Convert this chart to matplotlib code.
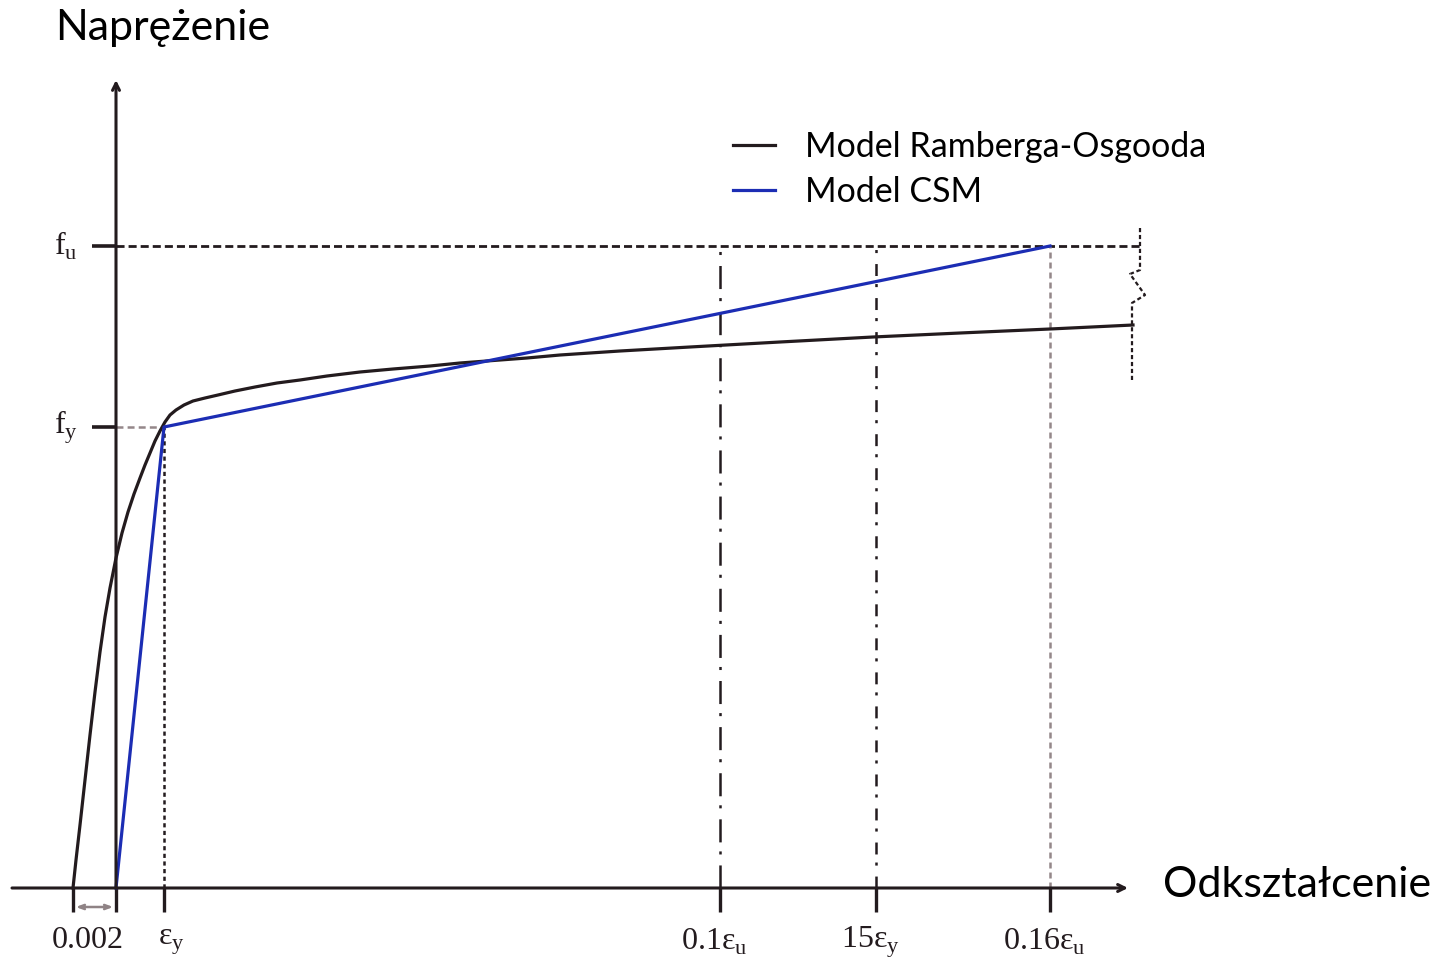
import numpy as np
import matplotlib.pyplot as plt

plt.rcParams['lines.scale_dashes'] = False
plt.rcParams['mathtext.fontset'] = 'custom'
plt.rcParams['mathtext.rm'] = 'Liberation Serif'

INK = '#231b1e'
BLUE = '#1c2db4'
GREY = '#948789'

# strain / stress in sketch units (origin at the axes crossing)
eps_002 = -43
eps_y = 48
eps_01u = 604
eps_15y = 760
eps_016u = 934
f_y = 461
f_u = 642

# Ramberg-Osgood curve, read point by point
ro_eps = [-43, -40, -36, -31, -26, -21, -16, -11, -6, 0, 6, 12, 18, 24, 29, 34,
          39, 44, 49, 54, 60, 68, 77, 89, 102, 119, 139, 161, 184, 211, 244,
          277, 314, 344, 384, 411, 444, 504, 574, 664, 757, 844, 934, 1017]
ro_sig = [0, 28, 63, 108, 153, 196, 236, 271, 300, 330, 355, 376, 394, 410,
          423, 435, 447, 457, 466, 473, 478, 483, 487, 490, 493, 497, 501, 505,
          508, 512, 516, 519, 522, 525, 528, 530, 533, 537, 541, 546, 551, 555,
          559, 563]

# CSM bilinear model
csm_eps = [0, eps_y, eps_016u]
csm_sig = [0, f_y, f_u]

xticks = [eps_002, 0, eps_y, eps_01u, eps_15y, eps_016u]
xlabels = {eps_y: 'ε$_\\mathregular{y}$', eps_01u: '0.1ε$_\\mathregular{u}$',
           eps_15y: '15ε$_\\mathregular{y}$', eps_016u: '0.16ε$_\\mathregular{u}$'}
yticks = [f_y, f_u]
ylabels = ['f$_\\mathregular{y}$', 'f$_\\mathregular{u}$']

fig = plt.figure(figsize=(14.45, 9.65), dpi=100)
ax = fig.add_axes([0, 0, 1, 1])
ax.set_xlim(-116, 1329)
ax.set_ylim(-77, 888)
ax.axis('off')

# axes with arrows
ax.annotate('', xy=(1012, 0), xytext=(-104, 0),
            arrowprops=dict(arrowstyle='->,head_length=0.5,head_width=0.25', color=INK, lw=2.2, shrinkA=0, shrinkB=0))
ax.annotate('', xy=(0, 808), xytext=(0, 0),
            arrowprops=dict(arrowstyle='->,head_length=0.5,head_width=0.25', color=INK, lw=2.2, shrinkA=0, shrinkB=0))

# ticks
for x in xticks:
    ax.plot([x, x], [0, -24], color=INK, lw=2.4, solid_capstyle='butt')
for y in yticks:
    ax.plot([-24, 0], [y, y], color=INK, lw=2.6, solid_capstyle='butt')

# guide lines
ax.plot([0, 1024], [f_u, f_u], color=INK, lw=2.0, dashes=(5.8, 2.9))
ax.plot([0, eps_y], [f_y, f_y], color=GREY, lw=1.8, dashes=(5, 3))
ax.plot([eps_y, eps_y], [0, f_y], color=INK, lw=1.8, dashes=(3, 2.5))
ax.plot([eps_01u, eps_01u], [0, f_u], color=INK, lw=1.8, dashes=(16.6, 7.9, 2.2, 6.5))
ax.plot([eps_15y, eps_15y], [0, f_u], color=INK, lw=1.8, dashes=(8.6, 7.9, 2.2, 5.8))
ax.plot([eps_016u, eps_016u], [0, f_u], color=GREY, lw=1.8, dashes=(4.3, 2.9))

# break mark at the end of the curve
ax.plot([1024, 1024, 1014, 1029, 1016, 1016], [660, 618, 614, 593, 585, 506],
        color=INK, lw=1.6, dashes=(3, 2))

# models
ax.plot(ro_eps, ro_sig, color=INK, lw=2.3, solid_joinstyle='round')
ax.plot(csm_eps, csm_sig, color=BLUE, lw=2.3, solid_joinstyle='round')

# 0.002 offset marker
ax.annotate('', xy=(0, -19), xytext=(eps_002, -19),
            arrowprops=dict(arrowstyle='<->,head_length=0.4,head_width=0.15', color='#8f8385', lw=1.8, shrinkA=2, shrinkB=2))

serif = dict(family='Liberation Serif', fontsize=23, color=INK)
ax.text(-28, -52, '0.002', ha='center', va='center', **serif)
for x, s in xlabels.items():
    ax.text(x - 6, -54, s, ha='left' if x == eps_y else 'center', va='center', **serif)
for y, s in zip(yticks, ylabels):
    ax.text(-50, y, s, ha='center', va='center', **serif)

ax.text(-61, 860, 'Naprężenie', ha='left', va='center', family='Lato', fontsize=31, color='black')
ax.text(1047, 3, 'Odkształcenie', ha='left', va='center', family='Lato', fontsize=31, color='black')

# legend
ax.plot([617, 659], [743, 743], color=INK, lw=2.3)
ax.plot([617, 659], [698, 698], color=BLUE, lw=2.3)
ax.text(689, 741, 'Model Ramberga-Osgooda', ha='left', va='center', family='Lato', fontsize=24.5, color='black')
ax.text(689, 696, 'Model CSM', ha='left', va='center', family='Lato', fontsize=24.5, color='black')

fig.savefig('out.png', dpi=100)
